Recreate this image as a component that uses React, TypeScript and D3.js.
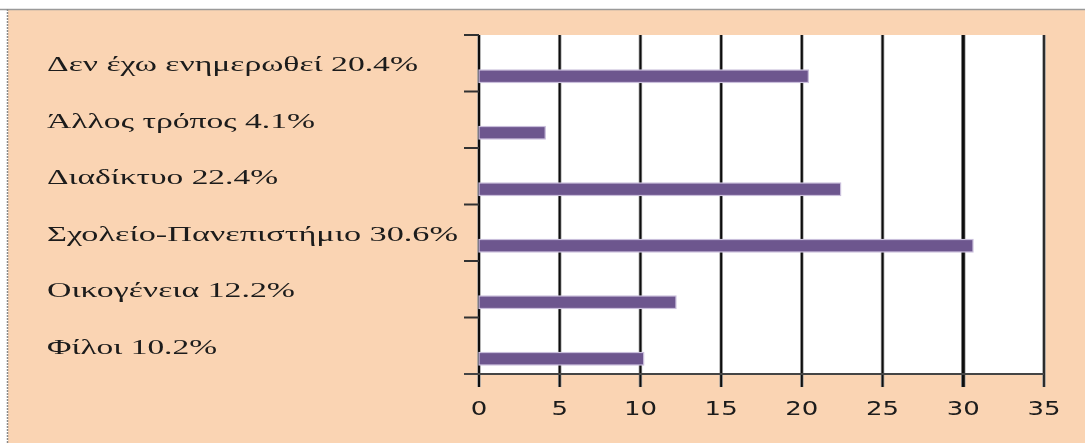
import React from "react";
import * as d3 from "d3";

// Survey: source of information (percent of respondents)
const categories: string[] = [
  "Δεν έχω ενημερωθεί",
  "Άλλος τρόπος",
  "Διαδίκτυο",
  "Σχολείο-Πανεπιστήμιο",
  "Οικογένεια",
  "Φίλοι",
];
const values: number[] = [20.4, 4.1, 22.4, 30.6, 12.2, 10.2];
const xTicks: number[] = [0, 5, 10, 15, 20, 25, 30, 35];
// rendered width of each category label (wide, letter-spaced serif)
const labelWidths: number[] = [371, 268, 231, 411, 248, 170];

const W = 1085;
const H = 443;
const plot = { left: 479, right: 1044, top: 35, bottom: 374 };

export default function App() {
  const x = d3.scaleLinear().domain([0, 35]).range([plot.left, plot.right]);
  const y = d3
    .scaleBand<string>()
    .domain(categories)
    .range([plot.top, plot.bottom])
    .padding(0);
  const bw = y.bandwidth();
  const boundaries = d3.range(categories.length + 1).map((i) => plot.top + i * bw);

  return (
    <svg
      width={W}
      height={H}
      style={{ position: "fixed", left: 0, top: 0, display: "block" }}
    >
      <defs>
        <filter id="soft" x="-5%" y="-50%" width="110%" height="200%">
          <feGaussianBlur stdDeviation="0.6" />
        </filter>
      </defs>
      <rect x={0} y={0} width={W} height={H} fill="#ffffff" />
      {/* frame */}
      <rect x={8} y={10} width={W - 8} height={H - 10} fill="#fad4b3" />
      <line x1={0} x2={W} y1={9.5} y2={9.5} stroke="#9a9a9a" strokeWidth={1.5} />
      <line
        x1={7.5}
        x2={7.5}
        y1={9}
        y2={H}
        stroke="#8a8a8a"
        strokeWidth={1.5}
        strokeDasharray="2 1"
      />

      {/* plot area */}
      <rect
        x={plot.left}
        y={plot.top}
        width={plot.right - plot.left}
        height={plot.bottom - plot.top}
        fill="#ffffff"
      />

      {/* vertical gridlines */}
      <g filter="url(#soft)">
        {xTicks.map((t) => (
          <g key={t}>
            <line
              x1={x(t)}
              x2={x(t)}
              y1={plot.top}
              y2={plot.bottom + 13}
              stroke="#9c9c9c"
              strokeWidth={t === 30 ? 4.5 : 3.5}
            />
            <line
              x1={x(t)}
              x2={x(t)}
              y1={plot.top}
              y2={plot.bottom + 13}
              stroke="#111111"
              strokeWidth={t === 30 ? 3 : t === 35 ? 1.6 : 2}
            />
          </g>
        ))}
        {/* category boundary ticks */}
        {boundaries.map((b, i) => (
          <line
            key={i}
            x1={plot.left - 15}
            x2={plot.left}
            y1={b}
            y2={b}
            stroke="#333333"
            strokeWidth={2}
          />
        ))}
        {/* x axis baseline */}
        <line
          x1={plot.left - 15}
          x2={plot.right}
          y1={plot.bottom}
          y2={plot.bottom}
          stroke="#444444"
          strokeWidth={2.2}
        />
      </g>

      {/* bars */}
      <g filter="url(#soft)">
        {categories.map((c, i) => (
          <rect
            key={c}
            x={x(0)}
            y={(y(c) as number) + bw * 0.62}
            width={x(values[i]) - x(0)}
            height={bw * 0.22}
            fill="#6d568e"
            stroke="#c9bedb"
            strokeWidth={1.2}
          />
        ))}
      </g>

      {/* category labels */}
      <g filter="url(#soft)">
        {categories.map((c, i) => (
          <text
            key={c}
            x={47}
            y={(y(c) as number) + bw / 2 + 7.8}
            fontFamily="'Liberation Serif', 'DejaVu Serif', serif"
            fontSize={20}
            fill="#1a1a1a"
            textLength={labelWidths[i]}
            lengthAdjust="spacingAndGlyphs"
          >
            {`${c} ${values[i].toFixed(1)}%`}
          </text>
        ))}
      </g>

      {/* x tick labels (wide numerals) */}
      <g filter="url(#soft)">
        {xTicks.map((t) => (
          <text
            key={t}
            transform={`translate(${x(t)},415) scale(1.3,1)`}
            textAnchor="middle"
            fontFamily="'DejaVu Sans', sans-serif"
            fontSize={20}
            fill="#1a1a1a"
          >
            {t}
          </text>
        ))}
      </g>
    </svg>
  );
}
